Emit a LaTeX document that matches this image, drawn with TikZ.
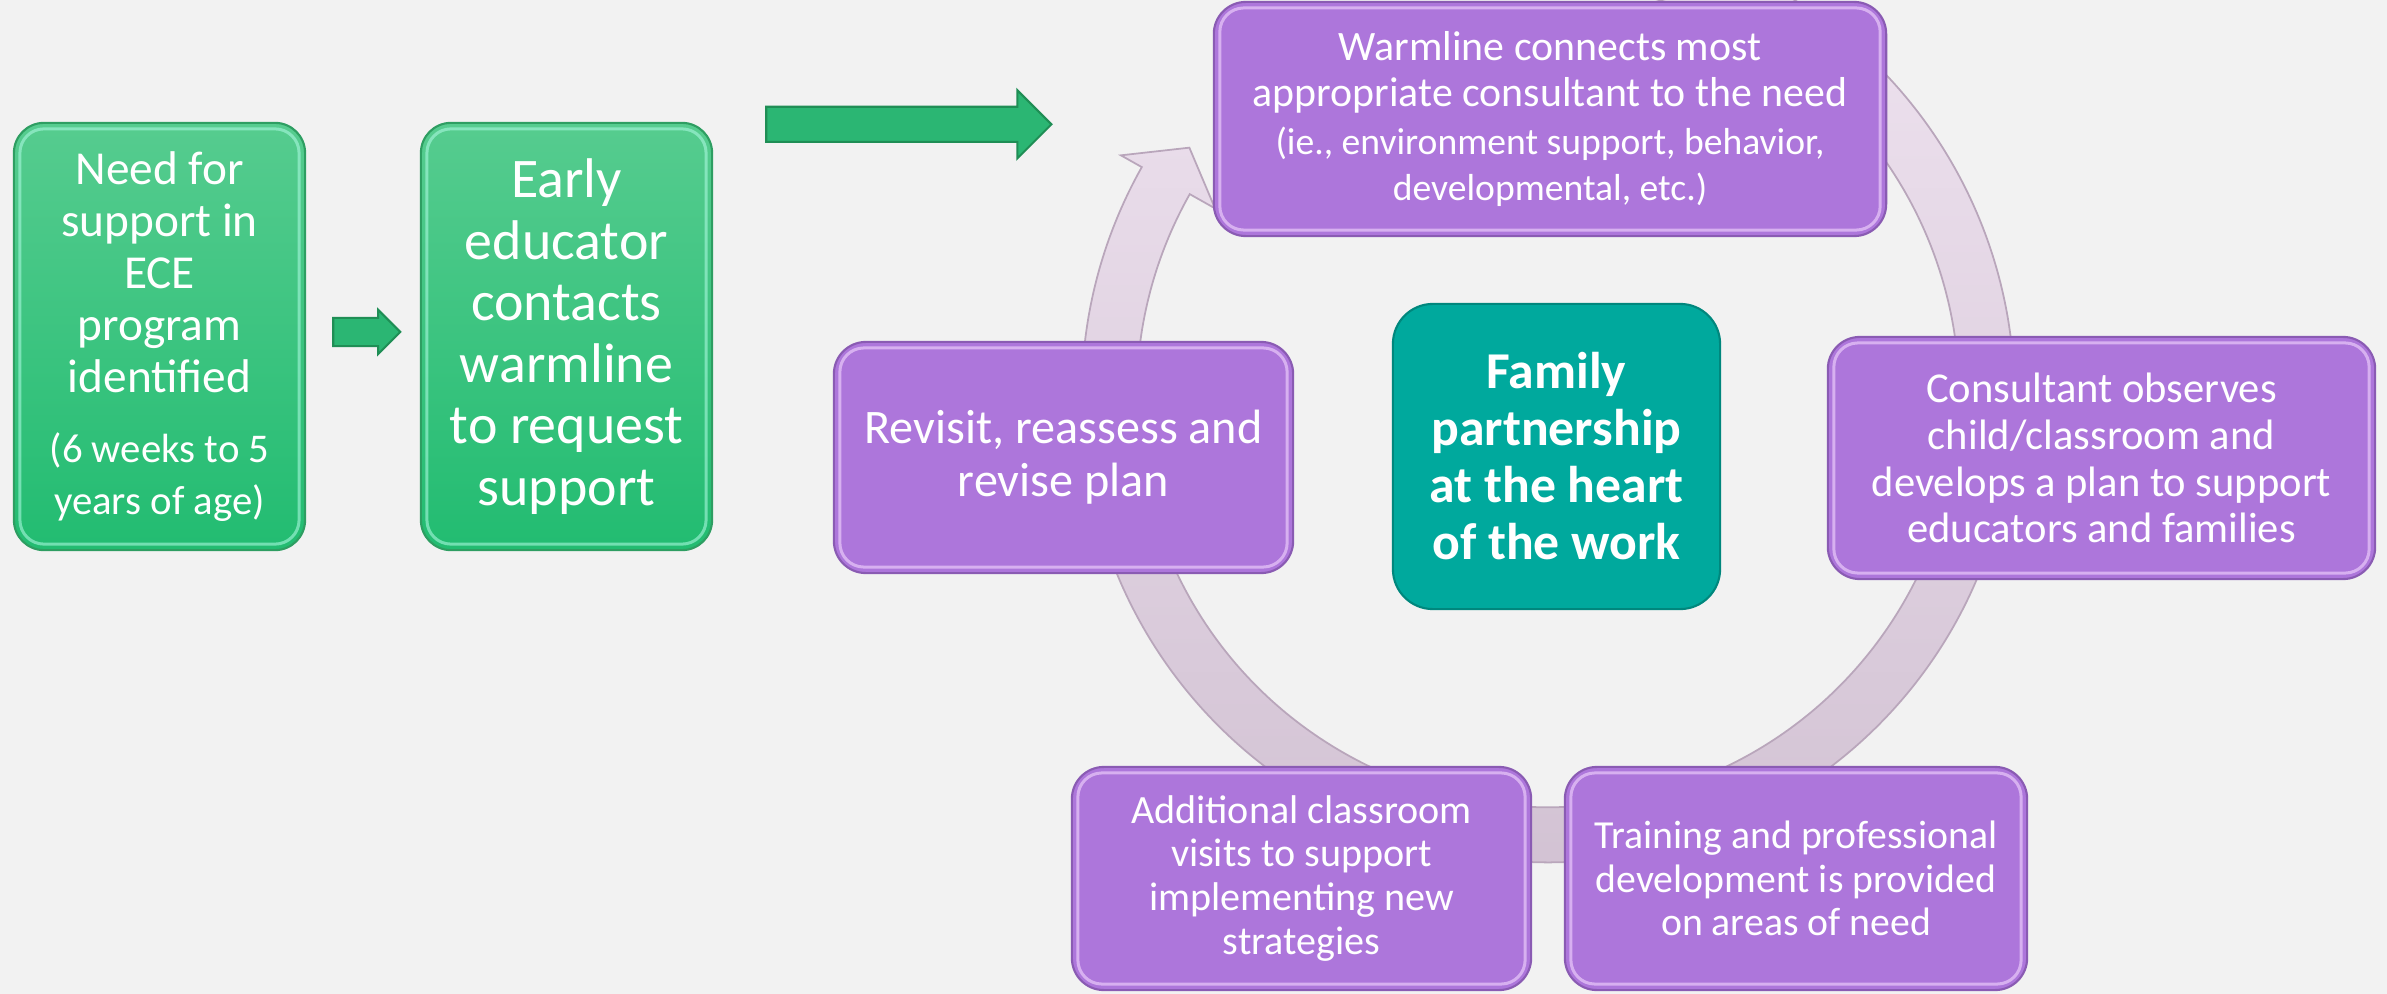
\documentclass[tikz,border=0pt]{standalone}
\usepackage{fontspec}
\setmainfont{Carlito}
\usetikzlibrary{positioning,shapes.arrows,calc}

\definecolor{bgcol}{HTML}{F2F2F2}
\definecolor{greentop}{HTML}{56CC8F}
\definecolor{greenbot}{HTML}{22BC71}
\definecolor{greenedge}{HTML}{2E9E62}
\definecolor{greenglow}{HTML}{A8F7DD}
\definecolor{arrowfill}{HTML}{2BB673}
\definecolor{arrowedge}{HTML}{1F8E55}
\definecolor{purpfill}{HTML}{AD76DB}
\definecolor{purpedge}{HTML}{8A5BB3}
\definecolor{purpglow}{HTML}{F3D8FF}
\definecolor{tealfill}{HTML}{00A99D}
\definecolor{tealedge}{HTML}{00877D}
\definecolor{ringtop}{HTML}{EFE3F0}
\definecolor{ringbot}{HTML}{D1C1D2}
\definecolor{ringedge}{HTML}{B9A6BB}

\newcommand\fsz[2]{\fontsize{#1}{#2}\selectfont}

\tikzset{
  bevel/.style={path picture={\draw[#1, line width=0.03cm, opacity=0.6, rounded corners=0.24cm]
      ([shift={(0.06cm,-0.06cm)}]path picture bounding box.north west) rectangle
      ([shift={(-0.06cm,0.06cm)}]path picture bounding box.south east);}},
  stepbox/.style={inner sep=0pt, align=flush center, text=white, line width=0.6pt},
  greenbox/.style={stepbox, rounded corners=0.3cm, top color=greentop, bottom color=greenbot,
      draw=greenedge, bevel=greenglow, minimum width=2.91cm, minimum height=4.27cm, text width=2.75cm},
  purplebox/.style={stepbox, rounded corners=0.32cm, fill=purpfill, draw=purpedge, bevel=purpglow},
  hubbox/.style={stepbox, rounded corners=0.4cm, fill=tealfill, draw=tealedge, font=\bfseries\fsz{14.7}{16.2}},
  greenarrow/.style={single arrow, fill=arrowfill, draw=arrowedge, line width=0.6pt, inner xsep=0pt},
  ringband/.style={top color=ringtop, bottom color=ringbot, draw=ringedge, line width=0.5pt}
}

\begin{document}
\begin{tikzpicture}[x=0.01cm, y=-0.01cm]
  \useasboundingbox (0,0) rectangle (2387,994);
  \fill[bgcol] (0,0) rectangle (2387,994);
  \clip (0,0) rectangle (2387,994);

  %cycle ring behind the steps
  \coordinate (hub) at (1548,396);
  \shade[ringband] ($(hub)+(75:4.66cm)$) arc[start angle=75, end angle=-209.4, radius=4.66cm]
    -- ($(hub)+(150.6:4.9cm)$) -- ($(hub)+(145.3:4.36cm)$) -- ($(hub)+(150.6:3.82cm)$)
    -- ($(hub)+(150.6:4.11cm)$) arc[start angle=150.6, end angle=435, radius=4.11cm] -- cycle;

  %intake steps
  \node[greenbox, font=\fsz{13.45}{14.8}] (need) at (159.5,336.5)
    {Need for\\support in\\ECE\\program\\identified\par\vspace{7pt}\fsz{11.6}{12.8}(6 weeks to 5\\years of age)};
  \node[greenbox, font=\fsz{15.9}{17.5}] (contact) at (566.5,336.5)
    {Early\\educator\\contacts\\warmline\\to request\\support};
  \node[greenarrow, minimum height=0.67cm, inner ysep=0.13cm, single arrow head extend=0.08cm,
    right=0.26cm of need, yshift=0.045cm] (stepA) {};
  \node[greenarrow, minimum height=2.85cm, inner ysep=0.165cm, single arrow head extend=0.165cm,
    right=0.52cm of contact.north east, yshift=-0.025cm] (stepB) {};

  %cycle steps
  \node[purplebox, minimum width=6.72cm, minimum height=2.34cm, text width=6.5cm, font=\fsz{11.9}{13.1}]
    (warm) at (1550,119)
    {Warmline connects most\\appropriate consultant to the need\par\vspace{2.6pt}\fsz{10.7}{10.8}(ie., environment support, behavior,\\developmental, etc.)};
  \node[purplebox, minimum width=5.47cm, minimum height=2.42cm, text width=5.3cm, font=\fsz{12.1}{13.3}]
    (consult) at (2101.5,458)
    {Consultant observes\\child/classroom and\\develops a plan to support\\educators and families};
  \node[purplebox, minimum width=4.62cm, minimum height=2.23cm, text width=4.45cm, font=\fsz{11.3}{12.4}]
    (training) at (1796,878.5)
    {Training and professional\\development is provided\\on areas of need};
  \node[purplebox, minimum width=4.59cm, minimum height=2.23cm, text width=4.4cm, font=\fsz{11.4}{12.5}]
    (visits) at (1301.5,878.5)
    {Additional classroom\\visits to support\\implementing new\\strategies};
  \node[purplebox, minimum width=4.59cm, minimum height=2.31cm, text width=4.4cm, font=\fsz{13.7}{15.1}]
    (revisit) at (1063.5,457.5)
    {Revisit, reassess and\\revise plan};

  %centre of the cycle
  \node[hubbox, minimum width=3.27cm, minimum height=3.05cm, text width=3.1cm] (family) at (1556.5,456.5)
    {Family\\partnership\\at the heart\\of the work};
\end{tikzpicture}
\end{document}
